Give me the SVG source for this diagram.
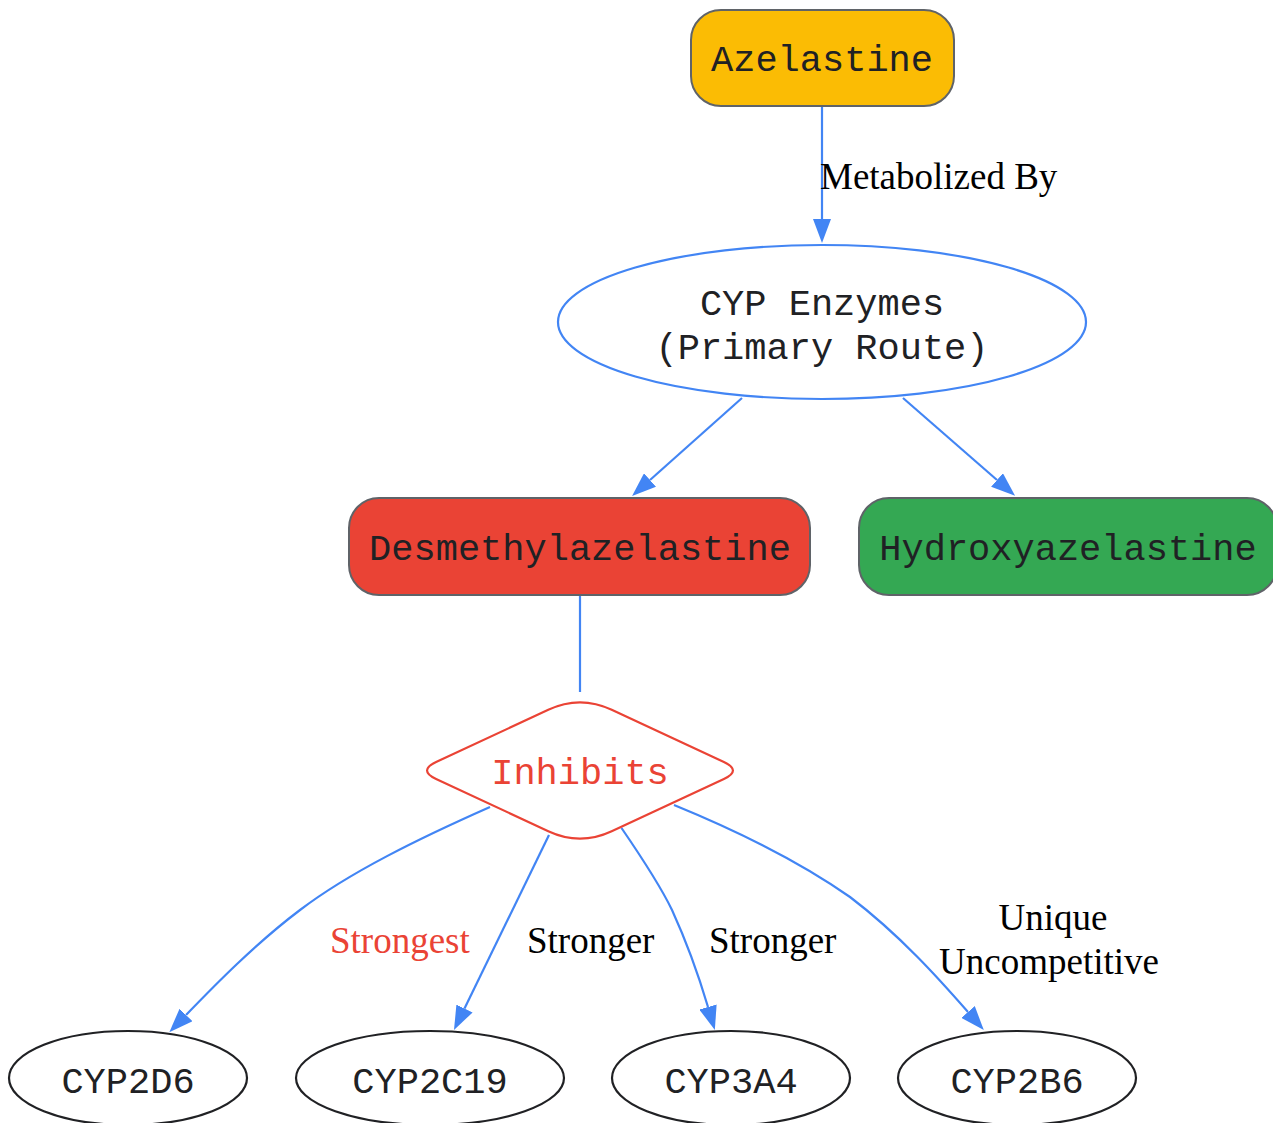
<svg xmlns="http://www.w3.org/2000/svg" width="1273" height="1123" viewBox="0 0 1273 1123">
<style>
.mono{font-family:"Liberation Mono","Courier New",monospace;font-size:37px;fill:#202124;text-anchor:middle}
.lbl{font-family:"Liberation Serif","Times New Roman",serif;font-size:37px;fill:#000000}
.box{stroke:#5F6368;stroke-width:2}
.edge{fill:none;stroke:#4285F4;stroke-width:2.2}
.ell{fill:#FFFFFF;stroke:#202124;stroke-width:2.2}
</style>
<defs>
<marker id="arr" viewBox="0 0 24 18" refX="0" refY="9" markerWidth="24" markerHeight="18" markerUnits="userSpaceOnUse" orient="auto">
<path d="M0,0 L24,9 L0,18 Z" fill="#4285F4"/>
</marker>
</defs>
<rect width="1273" height="1123" fill="#FFFFFF"/>
<g id="connectors">
<path class="edge" d="M822,106 L822,219" marker-end="url(#arr)"/>
<path class="edge" d="M742,398 L650,480" marker-end="url(#arr)"/>
<path class="edge" d="M903,398 L997,480" marker-end="url(#arr)"/>
<path class="edge" d="M580,596 L580,692"/>
<path class="edge" d="M490,807 C420,838 350,872 300,910 C255,944 215,985 186,1015" marker-end="url(#arr)"/>
<path class="edge" d="M549,835 L464.5,1008.5" marker-end="url(#arr)"/>
<path class="edge" d="M621.5,828 C640,855 660,885 672,910 C688,945 700,980 708,1007" marker-end="url(#arr)"/>
<path class="edge" d="M674,805 C740,832 800,862 850,897 C900,935 940,980 968,1012" marker-end="url(#arr)"/>
<text class="lbl" x="820" y="189">Metabolized By</text>
<text class="lbl" x="330" y="953" style="fill:#EA4335">Strongest</text>
<text class="lbl" x="527" y="953">Stronger</text>
<text class="lbl" x="709" y="953">Stronger</text>
<text class="lbl" x="1053" y="930" text-anchor="middle">Unique</text>
<text class="lbl" x="1049" y="974" text-anchor="middle">Uncompetitive</text>
</g>
<g id="azelastine">
<rect class="box" x="691" y="10" width="263" height="96" rx="30" fill="#FBBC04"/>
<text class="mono" x="822" y="71">Azelastine</text>
</g>
<g id="cyp_enzymes">
<ellipse cx="822" cy="322" rx="264" ry="77" fill="#FFFFFF" stroke="#4285F4" stroke-width="2.2"/>
<text class="mono" x="822" y="315">CYP Enzymes</text>
<text class="mono" x="822" y="359">(Primary Route)</text>
</g>
<g id="desmethylazelastine">
<rect class="box" x="349" y="498" width="461" height="97" rx="30" fill="#EA4335"/>
<text class="mono" x="580" y="560">Desmethylazelastine</text>
</g>
<g id="hydroxyazelastine">
<rect class="box" x="859" y="498" width="418" height="97" rx="30" fill="#34A853"/>
<text class="mono" x="1068" y="560">Hydroxyazelastine</text>
</g>
<g id="inhibits">
<path d="M548.3,709.8 Q580,695 611.7,709.8 L723.9,762 Q742,770.5 723.9,779 L611.7,831.2 Q580,846 548.3,831.2 L436.1,779 Q418,770.5 436.1,762 Z" fill="#FFFFFF" stroke="#EA4335" stroke-width="2.2"/>
<text class="mono" x="580" y="784" style="fill:#EA4335">Inhibits</text>
</g>
<g id="cyp2d6">
<ellipse class="ell" cx="128" cy="1078" rx="119" ry="47"/>
<text class="mono" x="128" y="1093">CYP2D6</text>
</g>
<g id="cyp2c19">
<ellipse class="ell" cx="430" cy="1078" rx="134" ry="47"/>
<text class="mono" x="430" y="1093">CYP2C19</text>
</g>
<g id="cyp3a4">
<ellipse class="ell" cx="731" cy="1078" rx="119" ry="47"/>
<text class="mono" x="731" y="1093">CYP3A4</text>
</g>
<g id="cyp2b6">
<ellipse class="ell" cx="1017" cy="1078" rx="119" ry="47"/>
<text class="mono" x="1017" y="1093">CYP2B6</text>
</g>
</svg>
